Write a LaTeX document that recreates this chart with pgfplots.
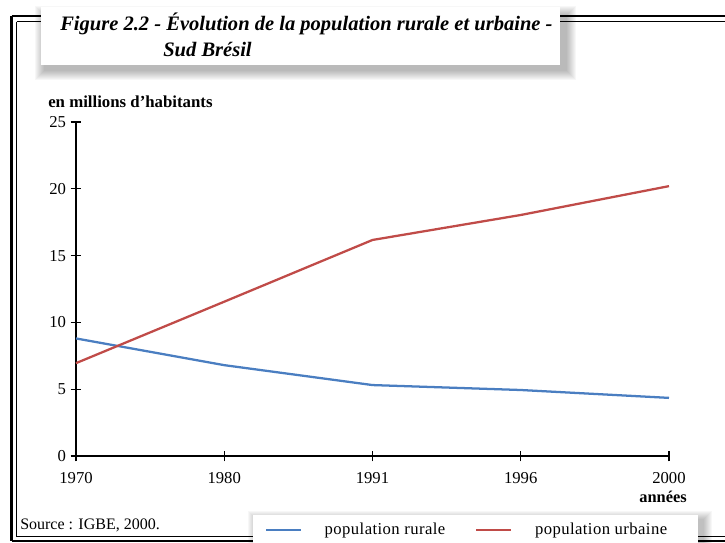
\documentclass[border=0pt]{standalone}
\usepackage{pgfplots}
\pgfplotsset{compat=1.18}
\usepackage{fontspec}
\setmainfont{Liberation Serif}
\newfontfamily\legfont[LetterSpace=2.5]{Liberation Serif}
\definecolor{rurblue}{RGB}{74,126,193}
\definecolor{urbred}{RGB}{192,75,72}
\begin{document}
\begin{tikzpicture}
\begin{scope}[x=0.75pt,y=-0.75pt]
\useasboundingbox (0,0) rectangle (725,542);
% double frame
\draw[line width=2.2pt] (11.5,16) -- (740,16);
\draw[line width=2.2pt] (11.5,16) -- (11.5,541);
\draw[line width=2.2pt] (11.5,541) -- (740,541);
\draw[line width=0.6pt] (16.5,21.5) -- (740,21.5);
\draw[line width=0.6pt] (16.5,21.5) -- (16.5,536.5);
\draw[line width=0.6pt] (16.5,536.5) -- (740,536.5);
% title shadow
\foreach \s in {0,...,9}{
  \fill[black,opacity=0.03] (41+3-\s,7+8-\s) rectangle (560+7+\s,65+6+\s);
}
\fill[white] (41,7) rectangle (560,65);
\node[anchor=base west,font=\fontsize{15.4}{18}\selectfont\bfseries\itshape,inner sep=0] at (60,30) {Figure 2.2 - Évolution de la population rurale et urbaine -};
\node[anchor=base west,font=\fontsize{15.4}{18}\selectfont\bfseries\itshape,inner sep=0] at (163,56) {Sud Brésil};
% legend box shadow
\foreach \s in {0,...,8}{
  \fill[black,opacity=0.03] (253+3-\s,515+4-\s) rectangle (698+6+\s,560);
}
\fill[white] (253,515) rectangle (698,560);
% texts
\node[anchor=base west,font=\fontsize{12.6}{14}\selectfont\bfseries,inner sep=0] at (48,107) {en millions d'habitants};
\node[anchor=base east,font=\fontsize{12.3}{14}\selectfont\bfseries,inner sep=0] at (687,502) {années};
\node[anchor=base west,font=\fontsize{12}{14}\selectfont,inner sep=0] at (20,529) {Source : IGBE, 2000.};
\end{scope}
\begin{axis}[
  at={(57pt,-342pt)}, anchor=origin,
  scale only axis,
  width=444.75pt, height=250.5pt,
  xmin=0, xmax=4, ymin=0, ymax=25,
  axis lines*=left,
  axis line style={line width=0.8pt, -},
  xtick={0,1,2,3,4},
  xticklabels={1970,1980,1991,1996,2000},
  ytick={0,5,10,15,20,25},
  tick align=center,
  major tick length=8pt,
  tick style={line width=0.8pt, black},
  ticklabel style={font=\fontsize{12.5}{14}\selectfont},
  xticklabel style={yshift=-4.5pt},
  /pgf/number format/assume math mode=true,
  clip=false,
  legend columns=2,
  legend style={at={(0.660,-0.2216)}, anchor=center, draw=none, fill=none,
    font=\fontsize{12.5}{14}\selectfont\legfont,
    /tikz/every even column/.append style={column sep=20.5pt}},
  legend image code/.code={\draw[#1] (0pt,0pt) -- (26pt,0pt); \path[draw=none] (0pt,0pt) -- (42pt,0pt);},
]
\addplot[rurblue, line width=1.7pt] coordinates {(0,8.8) (1,6.8) (2,5.31) (3,4.94) (4,4.35)};
\addlegendentry{population rurale}
\addplot[urbred, line width=1.7pt] coordinates {(0,6.95) (1,11.55) (2,16.17) (3,18.04) (4,20.2)};
\addlegendentry{population urbaine}
\end{axis}
\end{tikzpicture}
\end{document}
